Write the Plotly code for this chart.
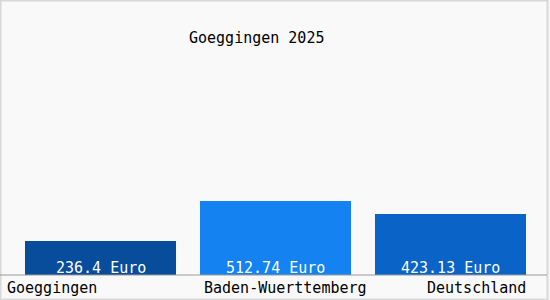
import plotly.graph_objects as go

categories = ["Goeggingen", "Baden-Wuerttemberg", "Deutschland"]
values = [236.4, 512.74, 423.13]
value_labels = ["236.4 Euro", "512.74 Euro", "423.13 Euro"]
bar_colors = ["#084c9c", "#1482f0", "#0a64c8"]
title_text = "Goeggingen 2025"

W, H = 550, 300
ml, mr, mt, mb = 13, 12, 50, 25
pw = W - ml - mr
ph = H - mt - mb
FONT = "DejaVu Sans Mono"

fig = go.Figure()
fig.add_trace(go.Bar(
    x=categories, y=values, marker_color=bar_colors, marker_line_width=0,
    width=0.863, hoverinfo="skip",
))

# value labels at the bottom of each bar
for c, t in zip(categories, value_labels):
    fig.add_annotation(text=t, x=c, xref="x", xanchor="center",
                       y=0, yref="y", yanchor="middle", yshift=7, showarrow=False,
                       font=dict(family=FONT, size=15, color="white"))

# category labels below axis
label_x = [5, 285, 528]
anchors = ["left", "center", "right"]
for c, lx, a in zip(categories, label_x, anchors):
    fig.add_annotation(text=c, x=(lx - ml) / pw, xref="paper", xanchor=a,
                       y=-13 / ph, yref="paper", yanchor="middle", showarrow=False,
                       font=dict(family=FONT, size=15, color="black"))

fig.add_annotation(text=title_text, x=(256.5 - ml) / pw, xref="paper", xanchor="center",
                   y=1 + 12 / ph, yref="paper", yanchor="middle", showarrow=False,
                   font=dict(family=FONT, size=15, color="black"))

# axis line across the full width
fig.add_shape(type="line", xref="paper", yref="paper",
              x0=-ml / pw, x1=(W - 3 - ml) / pw, y0=0, y1=0,
              line=dict(color="#999999", width=1))
# outer border
fig.add_shape(type="rect", xref="paper", yref="paper",
              x0=(0.5 - ml) / pw, x1=(W - 2.5 - ml) / pw,
              y0=-(mb - 0.5) / ph, y1=1 + (mt - 0.5) / ph,
              line=dict(color="#d8d8d8", width=2), layer="below")

fig.update_layout(
    width=W, height=H, margin=dict(l=ml, r=mr, t=mt, b=mb),
    paper_bgcolor="#f9f9f9", plot_bgcolor="#f9f9f9",
    showlegend=False, bargap=0.137,
    xaxis=dict(showticklabels=False, showgrid=False, zeroline=False, showline=False,
               range=[-0.5, 2.5]),
    yaxis=dict(showticklabels=False, showgrid=False, zeroline=False, showline=False,
               range=[0, 1561]),
)
fig.write_html("out.html")
